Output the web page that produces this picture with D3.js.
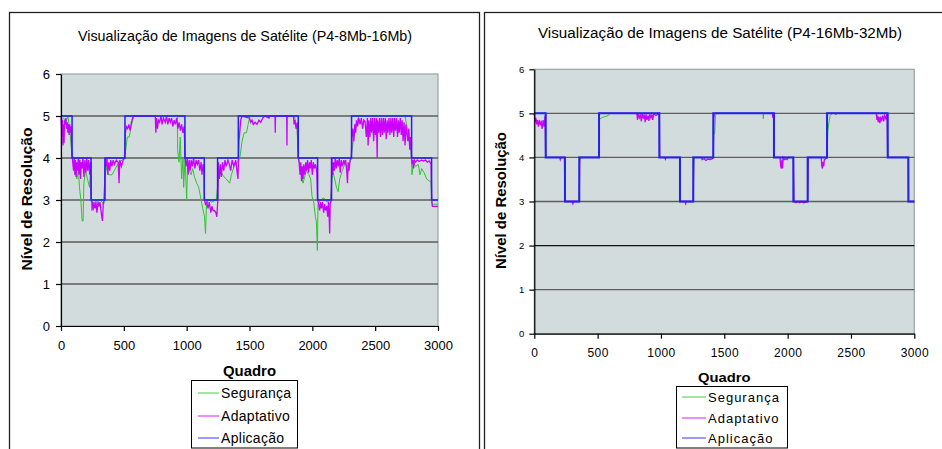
<!DOCTYPE html>
<html>
<head>
<meta charset="utf-8">
<script src="https://d3js.org/d3.v7.min.js"></script>
<style>
    body { margin: 0; background: #ffffff; }
    svg { display: block; font-family: "Liberation Sans", Arial, sans-serif; }
</style>
</head>
<body>
<svg id="canvas" width="942" height="449"></svg>
<script>
const svg = d3.select('#canvas');

const PLOT_BG = '#d3dcdc';
const COLORS = ['#2ec62e', '#cc00ff', '#2323ee'];

//ticks and names shared by both charts
const frameTicks = [0, 500, 1000, 1500, 2000, 2500, 3000];
const levelTicks = [0, 1, 2, 3, 4, 5, 6];
const seriesNames = ['Segurança', 'Adaptativo', 'Aplicação'];
const xTitle = 'Quadro';
const yTitle = 'Nível de Resolução';

const titleA = 'Visualização de Imagens de Satélite (P4-8Mb-16Mb)';
const titleB = 'Visualização de Imagens de Satélite (P4-16Mb-32Mb)';

//Aplicação: level changes [frame, level], drawn as steps
const aplicacaoA = [[0, 5], [88, 4], [239, 3], [350, 4], [509, 5], [986, 4], [1140, 3], [1246, 4],
    [1411, 5], [1888, 4], [2042, 3], [2153, 4], [2312, 5], [2790, 4], [2949, 3], [3000, 3]];
const aplicacaoB = [[0, 5], [90, 4], [242, 3], [355, 4], [511, 5], [987, 4], [1150, 3], [1255, 4],
    [1413, 5], [1892, 4], [2045, 3], [2158, 4], [2311, 5], [2790, 4], [2953, 3], [3000, 3]];

//Segurança [frame, level]
const segurancaA = [[0, 4.9], [20, 4.95], [40, 4.85], [55, 5], [72, 4.6], [86, 4.1], [99, 4.0], [112, 3.9],
    [126, 3.5], [139, 3.7], [147, 3.3], [158, 3.0], [168, 2.5], [176, 2.5], [182, 3.4], [195, 3.7],
    [211, 3.5], [227, 3.3], [238, 3.9], [243, 2.75], [254, 3.0], [286, 2.95], [313, 3.0], [340, 2.9],
    [353, 3.9], [366, 3.7], [380, 3.6], [406, 3.6], [433, 3.75], [460, 3.9], [487, 3.95], [505, 4.0],
    [516, 4.2], [527, 4.5], [543, 4.5], [559, 4.75], [580, 5.0], [926, 5.0], [928, 4.2], [939, 3.9],
    [949, 4.5], [960, 3.5], [971, 4.0], [976, 3.3], [987, 4.0], [1000, 3.0], [1008, 3.9], [1021, 3.7],
    [1035, 3.6], [1048, 3.75], [1062, 3.55], [1080, 3.4], [1096, 3.3], [1115, 3.0], [1128, 2.8],
    [1142, 2.6], [1150, 2.2], [1158, 2.9], [1174, 3.0], [1200, 2.95], [1235, 3.0], [1257, 3.6],
    [1275, 3.65], [1297, 3.55], [1316, 3.5], [1342, 3.4], [1356, 3.6], [1377, 3.8], [1404, 3.9],
    [1423, 4.0], [1441, 4.4], [1457, 4.6], [1476, 4.6], [1489, 4.8], [1503, 5.0], [1859, 5.0],
    [1867, 4.8], [1878, 4.75], [1888, 4.0], [1899, 3.85], [1912, 3.6], [1926, 3.4], [1939, 3.55],
    [1952, 3.7], [1973, 3.6], [1987, 3.5], [1997, 3.1], [2011, 2.95], [2024, 2.6], [2032, 2.5],
    [2040, 1.8], [2045, 2.9], [2064, 3.0], [2091, 3.05], [2117, 2.95], [2144, 3.0], [2157, 3.5],
    [2165, 3.65], [2178, 3.5], [2192, 3.3], [2205, 3.2], [2218, 3.5], [2239, 3.7], [2258, 3.85],
    [2285, 3.8], [2306, 3.95], [2317, 4.2], [2330, 4.5], [2346, 4.8], [2357, 4.9], [2372, 5.0],
    [2737, 5.0], [2750, 4.8], [2771, 4.4], [2785, 4.2], [2793, 3.6], [2803, 3.9], [2822, 3.8],
    [2843, 3.85], [2857, 3.6], [2870, 3.75], [2889, 3.65], [2910, 3.5], [2931, 3.45], [2944, 3.45],
    [2952, 2.9], [2968, 2.9], [3000, 2.9]];

//Adaptativo [frame, level]
const adaptativoA = [[0, 5.0], [3, 4.8], [8, 4.5], [12, 4.9], [16, 4.3], [20, 4.8], [24, 4.35], [28, 4.9],
    [32, 4.8], [38, 4.95], [45, 4.7], [50, 4.85], [55, 4.6], [60, 4.8], [65, 4.55], [70, 4.8], [75, 4.6],
    [80, 4.75], [86, 4.1], [90, 4.0], [100, 3.7], [105, 4.0], [110, 3.6], [115, 3.95], [120, 3.55],
    [126, 3.9], [132, 3.7], [138, 4.0], [144, 3.6], [150, 3.95], [156, 3.5], [162, 3.9], [168, 3.75],
    [175, 4.0], [182, 3.55], [190, 3.95], [198, 3.65], [205, 4.0], [212, 3.7], [220, 3.95], [228, 3.6],
    [235, 3.9], [240, 3.0], [248, 2.95], [255, 2.75], [262, 2.95], [270, 2.8], [278, 2.95], [286, 2.7],
    [294, 2.95], [302, 2.85], [310, 2.95], [318, 2.75], [325, 2.6], [330, 2.5], [336, 2.9], [345, 3.0],
    [352, 4.0], [360, 3.8], [366, 4.0], [372, 3.6], [380, 3.9], [388, 3.7], [396, 3.95], [405, 3.8],
    [415, 3.95], [425, 3.85], [440, 3.95], [455, 3.9], [462, 3.4], [468, 3.95], [480, 3.8], [495, 3.95],
    [505, 4.0], [512, 4.6], [520, 4.75], [530, 4.7], [540, 4.8], [550, 4.65], [560, 4.85], [575, 5.0],
    [750, 5.0], [755, 4.6], [760, 4.95], [768, 4.7], [775, 4.9], [785, 4.85], [795, 5], [805, 4.8],
    [815, 4.95], [830, 4.85], [840, 5], [850, 4.8], [860, 4.95], [870, 4.85], [880, 4.95], [890, 4.75],
    [900, 4.9], [910, 4.8], [920, 4.95], [930, 4.7], [940, 4.85], [950, 4.65], [960, 4.8], [970, 4.6],
    [980, 4.75], [988, 4.0], [995, 3.8], [1005, 4.0], [1012, 3.6], [1020, 3.95], [1028, 3.7], [1036, 3.95],
    [1045, 3.8], [1055, 4.0], [1065, 3.75], [1075, 3.95], [1085, 3.85], [1095, 3.95], [1105, 3.7],
    [1115, 3.9], [1122, 3.6], [1130, 3.85], [1138, 3.65], [1142, 3.0], [1150, 2.9], [1160, 2.95],
    [1170, 2.8], [1180, 2.95], [1192, 2.7], [1200, 2.85], [1210, 2.75], [1220, 2.75], [1232, 2.7],
    [1240, 2.6], [1248, 3.0], [1252, 3.9], [1260, 3.5], [1268, 3.85], [1276, 3.55], [1285, 3.9],
    [1295, 3.7], [1305, 3.95], [1315, 3.8], [1328, 3.95], [1340, 3.85], [1350, 3.7], [1362, 3.95],
    [1375, 3.8], [1390, 3.95], [1400, 3.7], [1408, 3.5], [1412, 3.95], [1416, 4.4], [1422, 4.6],
    [1430, 4.9], [1440, 5.0], [1500, 4.95], [1510, 4.85], [1520, 4.9], [1530, 4.8], [1545, 4.85],
    [1560, 4.8], [1575, 4.9], [1590, 4.85], [1605, 4.95], [1620, 5.0], [1655, 4.95], [1662, 5.0],
    [1703, 5.0], [1705, 4.6], [1707, 5.0], [1796, 5.0], [1798, 4.3], [1800, 5.0], [1850, 5.0],
    [1855, 4.8], [1862, 4.9], [1870, 4.7], [1880, 4.85], [1888, 4.0], [1895, 3.9], [1902, 3.6],
    [1908, 3.9], [1914, 3.45], [1920, 3.8], [1926, 3.5], [1932, 3.85], [1940, 3.6], [1948, 3.9],
    [1955, 3.7], [1962, 3.95], [1970, 3.65], [1978, 3.9], [1985, 3.75], [1992, 3.95], [2000, 3.6],
    [2008, 3.9], [2015, 3.75], [2025, 3.85], [2035, 3.7], [2042, 3.0], [2050, 2.9], [2058, 2.75],
    [2065, 2.95], [2072, 2.8], [2080, 2.95], [2090, 2.7], [2098, 2.9], [2105, 2.75], [2115, 2.85],
    [2122, 2.6], [2128, 2.95], [2135, 2.5], [2138, 2.2], [2142, 2.9], [2150, 3.0], [2155, 4.0],
    [2162, 3.6], [2168, 3.9], [2175, 3.7], [2182, 4.0], [2190, 3.75], [2198, 3.95], [2206, 3.8],
    [2214, 4.0], [2222, 3.65], [2230, 3.95], [2240, 3.8], [2250, 3.95], [2258, 3.85], [2265, 3.95],
    [2272, 3.75], [2280, 3.4], [2285, 3.9], [2292, 3.7], [2300, 3.95], [2310, 4.0], [2315, 4.5],
    [2322, 4.7], [2330, 4.4], [2338, 4.8], [2345, 4.6], [2352, 4.9], [2360, 4.75], [2370, 4.95],
    [2380, 4.8], [2390, 4.95], [2400, 4.7], [2410, 4.9], [2420, 4.85], [2430, 4.5], [2438, 4.95],
    [2444, 4.3], [2450, 4.9], [2458, 4.5], [2465, 4.95], [2472, 4.6], [2480, 4.95], [2488, 4.4],
    [2495, 4.95], [2502, 4.55], [2510, 4.95], [2516, 4.0], [2520, 4.9], [2528, 4.6], [2535, 4.95],
    [2542, 4.5], [2550, 4.95], [2558, 4.55], [2565, 4.95], [2572, 4.6], [2580, 4.95], [2588, 4.45],
    [2595, 4.9], [2602, 4.6], [2610, 4.95], [2618, 4.55], [2625, 4.95], [2632, 4.6], [2640, 4.95],
    [2648, 4.5], [2655, 4.95], [2662, 4.65], [2670, 4.95], [2678, 4.5], [2685, 4.9], [2692, 4.6],
    [2700, 4.95], [2708, 4.55], [2715, 4.9], [2722, 4.4], [2730, 4.85], [2738, 4.3], [2745, 4.8],
    [2752, 4.6], [2760, 4.4], [2768, 4.7], [2775, 4.2], [2782, 4.5], [2790, 4.0], [2795, 3.85],
    [2800, 3.95], [2806, 3.75], [2812, 3.95], [2820, 3.9], [2835, 3.95], [2850, 3.92], [2870, 3.95],
    [2885, 3.93], [2900, 3.95], [2915, 3.9], [2930, 3.93], [2945, 3.85], [2950, 3.0], [2955, 2.85],
    [3000, 2.85]];

//Segurança
const segurancaB = [[0, 5], [90, 5], [92, 4], [242, 4], [246, 3], [355, 3], [357, 3.85], [362, 4],
    [511, 4], [513, 4.85], [530, 4.9], [584, 4.95], [600, 5], [987, 5], [989, 4], [1150, 4], [1152, 3],
    [1255, 3], [1257, 3.45], [1262, 4], [1413, 4], [1416, 4.5], [1424, 4.55], [1430, 4.95], [1440, 5],
    [1806, 5], [1808, 4.88], [1810, 5], [1892, 5], [1894, 4], [2045, 4], [2050, 3], [2158, 3],
    [2161, 3.5], [2166, 4], [2311, 4], [2314, 4.3], [2318, 4.6], [2326, 4.8], [2336, 4.95], [2350, 5],
    [2790, 5], [2792, 4], [2953, 4], [2955, 3], [3000, 3]];

//Adaptativo
const adaptativoB = [[0, 5], [5, 4.8], [12, 4.9], [18, 4.75], [25, 4.85], [32, 4.7], [40, 4.85],
    [47, 4.75], [55, 4.8], [62, 4.65], [70, 4.85], [78, 4.7], [85, 4.95], [90, 4.0], [200, 4.0],
    [205, 3.95], [210, 4.0], [238, 4.0], [242, 3.0], [300, 3.0], [305, 2.95], [310, 3.0], [355, 3.0],
    [358, 4.0], [511, 4.0], [514, 5.0], [810, 5.0], [815, 4.85], [822, 5], [830, 4.9], [838, 4.95],
    [845, 4.82], [852, 5], [860, 4.88], [868, 4.97], [875, 4.8], [882, 4.98], [890, 4.85], [898, 4.95],
    [905, 4.83], [912, 4.98], [920, 4.9], [928, 4.97], [935, 4.85], [942, 4.99], [960, 4.95], [987, 5.0],
    [990, 4.0], [1030, 4.0], [1035, 3.96], [1040, 4.0], [1150, 4.0], [1152, 3.0], [1190, 3.0],
    [1195, 2.95], [1200, 3.0], [1255, 3.0], [1258, 4.0], [1320, 4.0], [1325, 3.95], [1340, 3.97],
    [1355, 3.93], [1370, 3.96], [1390, 3.95], [1405, 3.97], [1413, 4.0], [1416, 4.9], [1422, 5.0],
    [1880, 5.0], [1882, 4.9], [1884, 5], [1892, 5], [1894, 4.0], [1940, 4.0], [1945, 3.8], [1950, 3.75],
    [1955, 3.95], [1960, 3.75], [1965, 4.0], [1975, 3.95], [1985, 3.97], [1995, 3.95], [2005, 4.0],
    [2045, 4.0], [2050, 3.0], [2065, 2.97], [2080, 3.0], [2095, 2.97], [2110, 3.0], [2125, 2.97],
    [2140, 2.98], [2158, 3.0], [2162, 4.0], [2265, 4.0], [2270, 3.8], [2275, 3.75], [2280, 3.9],
    [2285, 3.8], [2290, 3.95], [2300, 3.97], [2311, 4.0], [2314, 5.0], [2378, 5.0], [2380, 4.97],
    [2382, 5.0], [2700, 5.0], [2705, 4.85], [2710, 4.95], [2715, 4.8], [2722, 4.92], [2728, 4.78],
    [2735, 4.9], [2742, 4.85], [2750, 4.95], [2758, 4.82], [2765, 4.95], [2775, 4.88], [2785, 5.0],
    [2790, 4.0], [2953, 4.0], [2955, 3.0], [3000, 3.0]];

//layout of the two panels
const charts = [
    {
        title: titleA, series: [segurancaA, adaptativoA, aplicacaoA],
        frame: [9, 12, 470, 460],
        plot: { left: 61, right: 438, top: 74, bottom: 326 },
        titleY: 40.5, titleLen: 334, titleSize: 14.5,
        yTick: { size: 13, pad: 6 }, xTick: { size: 13, pad: 9.5, spacing: 0 },
        xTitleY: 376, xTitleSize: 14, xTitleLen: 53,
        yTitleX: 32, yTitleSize: 15, yTitleLen: 143,
        legend: { x: 191, y: 380, w: 106, h: 67.5, line: [198, 219], textX: 221, rows: [393, 416, 438], size: 14, spacing: 0.3 },
        blueWidth: 1.5, darkGrid: []
    },
    {
        title: titleB, series: [segurancaB, adaptativoB, aplicacaoB],
        frame: [484, 12, 470, 460],
        plot: { left: 534.3, right: 914.3, top: 69.3, bottom: 333.7 },
        titleY: 37.7, titleLen: 364, titleSize: 14,
        yTick: { size: 9.5, pad: 5 }, xTick: { size: 12, pad: 10, spacing: 0.4 },
        xTitleY: 381.5, xTitleSize: 13, xTitleLen: 52.5,
        yTitleX: 506, yTitleSize: 14.5, yTitleLen: 137,
        legend: { x: 676, y: 386, w: 111, h: 61.5, line: [682, 706], textX: 708, rows: [397, 418, 438], size: 13, spacing: 1 },
        blueWidth: 2, darkGrid: [2]
    }
];

function drawChart(c) {
    const g = svg.append('g');

    //outer frame, runs past the bottom of the picture
    g.append('rect')
        .attr('x', c.frame[0] + 0.5).attr('y', c.frame[1] + 0.5)
        .attr('width', c.frame[2]).attr('height', c.frame[3])
        .attr('fill', 'none').attr('stroke', '#222').attr('stroke-width', 1.3);

    const x = d3.scaleLinear().domain([0, 3000]).range([c.plot.left, c.plot.right]);
    const y = d3.scaleLinear().domain([0, 6]).range([c.plot.bottom, c.plot.top]);

    //plot area
    g.append('rect')
        .attr('x', x(0)).attr('y', y(6))
        .attr('width', x(3000) - x(0)).attr('height', y(0) - y(6))
        .attr('fill', PLOT_BG).attr('stroke', '#9aa3a3').attr('stroke-width', 1.2);

    g.selectAll('.grid')
        .data(levelTicks.filter(d => d > 0 && d < 6))
        .join('line')
        .attr('class', 'grid')
        .attr('x1', x(0)).attr('x2', x(3000))
        .attr('y1', d => y(d)).attr('y2', d => y(d))
        .attr('stroke', d => c.darkGrid.includes(d) ? '#111' : '#5e5e5e')
        .attr('stroke-width', 1.3);

    //series: green first, blue on top
    const line = d3.line().x(d => x(d[0])).y(d => y(d[1]));
    const stepLine = d3.line().x(d => x(d[0])).y(d => y(d[1])).curve(d3.curveStepAfter);
    const widths = [1, 1.3, c.blueWidth];
    c.series.forEach((s, i) => {
        g.append('path')
            .datum(s)
            .attr('d', i === 2 ? stepLine : line)
            .attr('fill', 'none')
            .attr('stroke', COLORS[i])
            .attr('stroke-width', widths[i])
            .attr('stroke-linejoin', 'miter');
    });

    //axes
    const fmt = d3.format('d');
    const yAxis = g.append('g')
        .attr('transform', `translate(${x(0)},0)`)
        .call(d3.axisLeft(y).tickValues(levelTicks).tickFormat(fmt)
            .tickSize(5).tickSizeOuter(0).tickPadding(c.yTick.pad));
    const xAxis = g.append('g')
        .attr('transform', `translate(0,${y(0)})`)
        .call(d3.axisBottom(x).tickValues(frameTicks).tickFormat(fmt)
            .tickSize(5).tickSizeOuter(0).tickPadding(c.xTick.pad));
    [yAxis, xAxis].forEach(a => {
        a.attr('font-family', null);
        a.select('.domain').attr('stroke', '#000').attr('stroke-width', 1.2);
        a.selectAll('.tick line').attr('stroke', '#000').attr('stroke-width', 1.2);
        a.selectAll('.tick text').attr('fill', '#000');
    });
    yAxis.attr('font-size', c.yTick.size);
    xAxis.attr('font-size', c.xTick.size).attr('letter-spacing', c.xTick.spacing);

    //titles
    g.append('text')
        .attr('x', (c.frame[0] + c.frame[0] + c.frame[2]) / 2 + 1).attr('y', c.titleY)
        .attr('text-anchor', 'middle')
        .attr('font-size', c.titleSize)
        .attr('textLength', c.titleLen).attr('lengthAdjust', 'spacingAndGlyphs')
        .text(c.title);

    g.append('text')
        .attr('x', (c.plot.left + c.plot.right) / 2).attr('y', c.xTitleY)
        .attr('text-anchor', 'middle')
        .attr('font-size', c.xTitleSize).attr('font-weight', 'bold')
        .attr('textLength', c.xTitleLen).attr('lengthAdjust', 'spacingAndGlyphs')
        .text(xTitle);

    g.append('text')
        .attr('transform', `translate(${c.yTitleX},${(c.plot.top + c.plot.bottom) / 2 - 1}) rotate(-90)`)
        .attr('text-anchor', 'middle')
        .attr('font-size', c.yTitleSize).attr('font-weight', 'bold')
        .attr('textLength', c.yTitleLen).attr('lengthAdjust', 'spacingAndGlyphs')
        .text(yTitle);

    //legend
    const L = c.legend;
    g.append('rect')
        .attr('x', L.x + 0.5).attr('y', L.y + 0.5).attr('width', L.w).attr('height', L.h)
        .attr('fill', '#fff').attr('stroke', '#000').attr('stroke-width', 1);
    const rows = g.selectAll('.legend-row')
        .data(seriesNames)
        .join('g')
        .attr('class', 'legend-row')
        .attr('transform', (d, i) => `translate(0,${L.rows[i]})`);
    rows.append('line')
        .attr('x1', L.line[0]).attr('x2', L.line[1])
        .attr('stroke', (d, i) => COLORS[i]).attr('stroke-width', 1.2)
        .attr('stroke-opacity', 0.75);
    rows.append('text')
        .attr('x', L.textX).attr('dy', '0.35em')
        .attr('font-size', L.size).attr('letter-spacing', L.spacing)
        .text(d => d);
}

charts.forEach(drawChart);
</script>
</body>
</html>
